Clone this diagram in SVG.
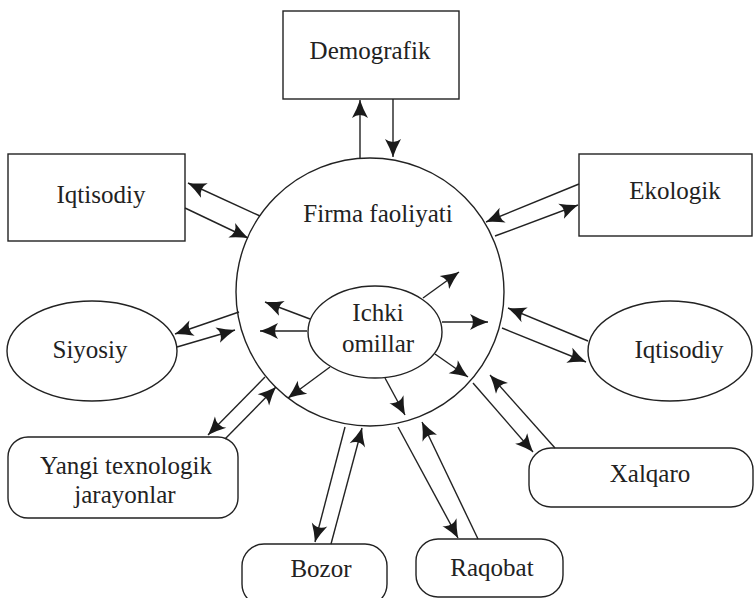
<svg xmlns="http://www.w3.org/2000/svg" width="754" height="598" viewBox="0 0 754 598" font-family="Liberation Serif, DejaVu Serif, serif">
<style>
.s{fill:#fff;stroke:#222;stroke-width:1.4}
text{font-family:"Liberation Serif",serif;font-size:25px;fill:#222;text-anchor:middle}
.c line{stroke:#222;stroke-width:1.4;marker-end:url(#a)}
</style>
<defs>
<marker id="a" viewBox="-20 -9 22 18" refX="0" refY="0" markerWidth="22" markerHeight="18" markerUnits="userSpaceOnUse" orient="auto">
<path d="M0,0 Q-9,-3 -18,-8 Q-12,0 -18,8 Q-9,3 0,0Z" fill="#1a1a1a"/>
</marker>
</defs>
<rect width="754" height="598" fill="#fff"/>
<g id="firma"><circle class="s" cx="370" cy="292" r="134"/><text x="378" y="222" font-family="Liberation Serif">Firma faoliyati</text></g>
<g id="ichki"><ellipse class="s" cx="375" cy="332" rx="67" ry="46"/><text x="378" y="321">Ichki</text><text x="378" y="352">omillar</text></g>
<g id="demografik"><rect class="s" x="283" y="11" width="176" height="88"/><text x="370" y="59">Demografik</text></g>
<g id="iqtisodiy1"><rect class="s" x="8" y="154" width="177" height="87"/><text x="101" y="203">Iqtisodiy</text></g>
<g id="ekologik"><rect class="s" x="579" y="154" width="173" height="82"/><text x="675" y="199">Ekologik</text></g>
<g id="siyosiy"><ellipse class="s" cx="92" cy="351" rx="85" ry="50"/><text x="90" y="358">Siyosiy</text></g>
<g id="iqtisodiy2"><ellipse class="s" cx="670" cy="351" rx="82" ry="50"/><text x="679" y="358">Iqtisodiy</text></g>
<g id="yangi"><rect class="s" x="8" y="437" width="230" height="81" rx="20"/><text x="126" y="474">Yangi texnologik</text><text x="125" y="503">jarayonlar</text></g>
<g id="xalqaro"><rect class="s" x="529" y="448" width="224" height="59" rx="22"/><text x="650" y="482">Xalqaro</text></g>
<g id="bozor"><rect class="s" x="242" y="544" width="145" height="62" rx="22"/><text x="321" y="577">Bozor</text></g>
<g id="raqobat"><rect class="s" x="416" y="539" width="147" height="58" rx="22"/><text x="492" y="576">Raqobat</text></g>
<g class="c" id="connectors">
<line x1="360" y1="158" x2="360" y2="100"/>
<line x1="393" y1="99" x2="393" y2="157"/>
<line x1="260" y1="216" x2="188" y2="183"/>
<line x1="185" y1="208" x2="248" y2="238"/>
<line x1="579" y1="184" x2="486" y2="222"/>
<line x1="495" y1="236" x2="578" y2="205"/>
<line x1="239" y1="312" x2="175" y2="334"/>
<line x1="177" y1="347" x2="235" y2="330"/>
<line x1="265" y1="377" x2="208" y2="435"/>
<line x1="225" y1="439" x2="276" y2="387"/>
<line x1="345" y1="427" x2="315" y2="542"/>
<line x1="331" y1="544" x2="362" y2="428"/>
<line x1="398" y1="427" x2="458" y2="538"/>
<line x1="478" y1="539" x2="422" y2="422"/>
<line x1="473" y1="383" x2="533" y2="452"/>
<line x1="555" y1="448" x2="490" y2="375"/>
<line x1="588" y1="341" x2="508" y2="308"/>
<line x1="502" y1="328" x2="586" y2="362"/>
<line x1="423" y1="298" x2="459" y2="272"/>
<line x1="442" y1="322" x2="488" y2="322"/>
<line x1="435" y1="354" x2="468" y2="377"/>
<line x1="385" y1="378" x2="405" y2="415"/>
<line x1="330" y1="367" x2="288" y2="398"/>
<line x1="307" y1="331" x2="260" y2="331"/>
<line x1="310" y1="319" x2="265" y2="302"/>
</g>
</svg>
